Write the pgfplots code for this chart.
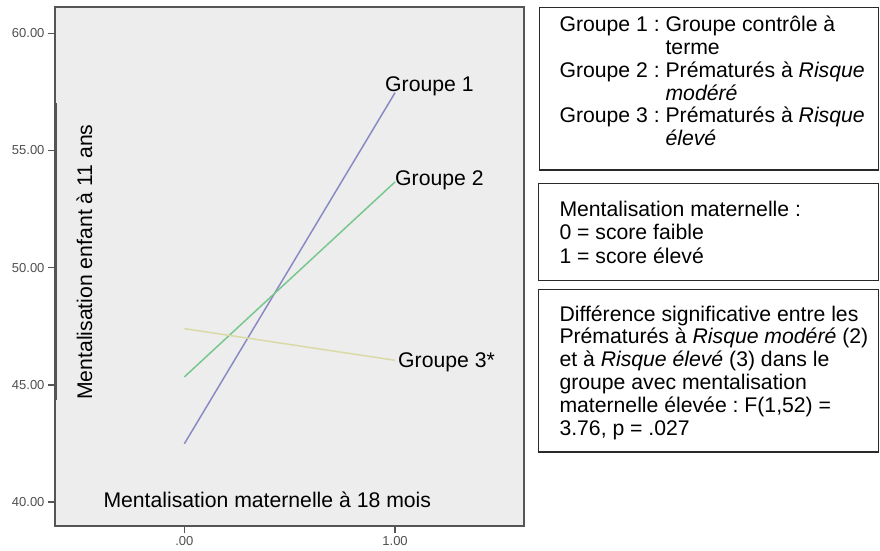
\documentclass[border=0pt]{standalone}
\usepackage{pgfplots}
\pgfplotsset{compat=1.18}
\usepackage{fontspec}
\setmainfont{Liberation Sans}
\frenchspacing
\definecolor{gone}{HTML}{8A8AC4}
\definecolor{gtwo}{HTML}{78C88E}
\definecolor{gthree}{HTML}{DADAA6}
\definecolor{bg}{HTML}{EDEDED}
\definecolor{frame}{HTML}{555555}
\definecolor{tickgray}{HTML}{505050}
\definecolor{boxc}{HTML}{2A2A2A}
\newcommand{\bigf}{\fontsize{21.2}{22.8}\selectfont}
\begin{document}
\begin{tikzpicture}[x=1pt,y=1pt]
\useasboundingbox (0,0) rectangle (880,550);
\fill[white] (0,0) rectangle (880,550);
\begin{axis}[
  at={(55pt,24pt)}, anchor=south west,
  width=469pt, height=518.7pt, scale only axis,
  xmin=-0.614, xmax=1.612, ymin=38.98, ymax=61.11,
  axis background/.style={fill=bg},
  axis line style={draw=frame, line width=1.8pt},
  xtick={0,1}, xticklabels={.00,1.00},
  ytick={40,45,50,55,60}, yticklabels={40.00,45.00,50.00,55.00,60.00},
  xtick pos=bottom, ytick pos=left,
  tick align=outside, major tick length=7pt,
  tick style={draw=frame, line width=1.2pt},
  ticklabel style={font=\fontsize{13}{13}\selectfont, text=tickgray},
  /pgf/number format/assume math mode=true,
]
\addplot[gone, line width=1.5pt] coordinates {(0,42.49) (1,57.47)};
\addplot[gtwo, line width=1.5pt] coordinates {(0,45.34) (1,53.66)};
\addplot[gthree, line width=1.5pt] coordinates {(0,47.40) (1,46.05)};
\end{axis}
\draw[frame, line width=1.2pt] (56.5,447) -- (56.5,150);
\begin{scope}[every node/.style={inner sep=0pt, font=\bigf}]
\node[anchor=base west] at (385,458.3) {Groupe 1};
\node[anchor=base west] at (395,364.3) {Groupe 2};
\node[anchor=base west] at (398,182.7) {Groupe 3*};
\node[anchor=base west, rotate=90] at (92,150) {Mentalisation enfant à 11 ans};
\node[anchor=base west] at (103.3,42.7) {Mentalisation maternelle à 18 mois};
% box 1
\draw[boxc, line width=1.2pt] (539.3,542.7) rectangle (878.5,380);
\node[anchor=base west] at (559.3,518.3) {Groupe 1 : Groupe contrôle à};
\node[anchor=base west] at (559.3,495.5) {\hphantom{Groupe 1 : }terme};
\node[anchor=base west] at (559.3,472.7) {Groupe 2 : Prématurés à \textit{Risque}};
\node[anchor=base west] at (559.3,449.9) {\hphantom{Groupe 2 : }\textit{modéré}};
\node[anchor=base west] at (559.3,427.1) {Groupe 3 : Prématurés à \textit{Risque}};
\node[anchor=base west] at (559.3,404.3) {\hphantom{Groupe 3 : }\textit{élevé}};
% box 2
\draw[boxc, line width=1.2pt] (538.3,366.7) rectangle (878.5,269.3);
\node[anchor=base west] at (559.3,334) {Mentalisation maternelle :};
\node[anchor=base west] at (559.3,310.5) {0 = score faible};
\node[anchor=base west] at (559.3,287) {1 = score élevé};
% box 3
\draw[boxc, line width=1.2pt] (538.3,260.7) rectangle (878.5,98);
\node[anchor=base west] at (559.3,229) {Différence significative entre les};
\node[anchor=base west] at (559.3,206.2) {Prématurés à \textit{Risque modéré} (2)};
\node[anchor=base west] at (559.3,183.4) {et à \textit{Risque élevé} (3) dans le};
\node[anchor=base west] at (559.3,160.6) {groupe avec mentalisation};
\node[anchor=base west] at (559.3,137.8) {maternelle élevée : F(1,52) =};
\node[anchor=base west] at (559.3,115) {3.76, p = .027};
\end{scope}
\end{tikzpicture}
\end{document}
